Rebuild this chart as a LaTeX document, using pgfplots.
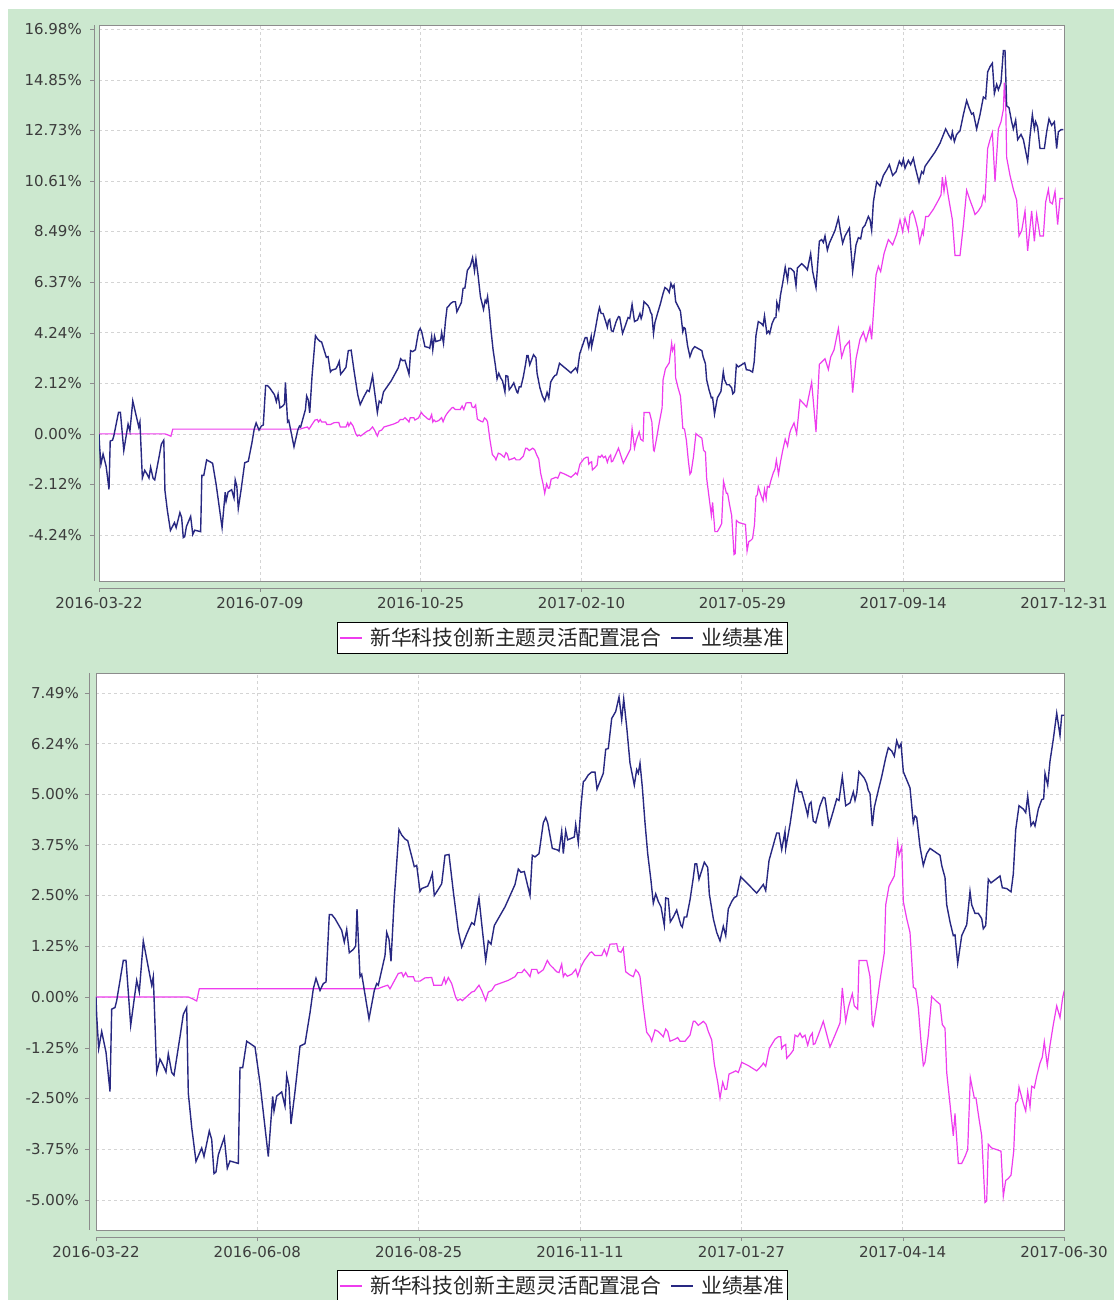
\documentclass[border=0pt]{standalone}
\usepackage{pgfplots}
\pgfplotsset{compat=1.18}
\usepackage{pgfplotstable}
\usepackage{fontspec}
\setmainfont{DejaVu Sans}
\newfontfamily\cjk{Noto Sans CJK SC}
\definecolor{bgg}{RGB}{204,232,207}
\definecolor{pk}{RGB}{238,60,238}
\definecolor{nv}{RGB}{40,40,130}
\definecolor{fr}{RGB}{140,140,140}
\definecolor{gr}{RGB}{212,212,212}
\definecolor{tl}{RGB}{60,60,60}

\pgfplotstableread{
u v
0 0
0.7 -0.47
2.7 -1.27
5.7 -0.85
10 -1.36
14 -2.33
15.7 -0.30
19 -0.26
20.7 -0.09
27.3 0.90
30 0.90
34.7 -0.70
40.7 0.41
43.3 0.12
47.3 1.38
55.7 0.29
57.3 0.50
60.7 -1.85
64 -1.53
67.3 -1.69
70 -1.85
72.3 -1.40
75.7 -1.86
78 -1.93
84 -0.98
87.3 -0.43
90.7 -0.26
92.3 -2.37
95.7 -3.21
100 -4.05
105.7 -3.72
108 -3.93
113.3 -3.30
115.7 -3.51
118 -4.35
120 -4.31
122.3 -3.89
128.3 -3.46
131.3 -4.22
134 -4.04
142.3 -4.10
144 -1.74
146.7 -1.74
150.7 -1.09
159 -1.23
164 -2.12
172.3 -3.93
176.7 -2.45
178 -2.81
180.7 -2.44
185.7 -2.34
189 -2.69
190.7 -1.93
193 -2.20
195 -3.13
199 -2.33
204 -1.21
209 -1.15
214 -0.39
217.3 0.20
220 0.46
224 0.16
227.3 0.33
230 0.37
233.3 2.03
235.7 2.03
239 1.93
245.7 1.64
248.3 1.35
250.7 1.66
253.3 1.09
257.3 1.17
259.7 1.26
261 2.16
264 0.50
265.7 0.56
273 -0.54
278.3 0.16
280.7 0.33
282.3 0.29
289 1.02
290.7 1.59
293 1.42
295 0.88
298.3 2.44
303 4.12
305.7 3.99
309 3.89
311.7 3.85
315 3.53
318.3 3.21
320.7 3.24
324 2.60
325.7 2.67
331.7 2.73
334 2.86
336.3 3.04
338.3 2.50
342.3 2.65
345.7 2.79
349 3.49
353 3.51
357.3 2.60
362.3 1.63
365.7 1.23
370.7 1.55
375.7 1.83
378.3 1.78
383 2.44
385.7 1.80
389.7 0.90
392.3 1.38
395 1.30
398.3 1.76
409 2.22
419 2.77
422.3 3.15
425 3.07
428.3 3.09
434 2.50
436.3 3.49
439 3.45
443 3.53
447.3 4.29
449.7 4.42
451.7 4.29
456.3 3.66
461.7 3.62
463 3.59
465.7 4.08
467.3 3.53
469.7 4.10
471.7 3.87
478.3 3.94
479.7 4.25
482.3 3.80
485 4.71
487.3 5.30
489 5.34
492.3 5.47
495.7 5.54
499 5.54
501 5.12
507.3 5.51
509.7 6.10
512.3 6.12
515.7 6.86
519.7 7.03
523 7.39
525.7 6.83
527.7 7.34
530.7 6.65
534 5.76
538.3 5.22
540.7 5.60
542.3 5.51
544 5.76
546.3 5.17
549 4.29
551.7 3.53
555 2.86
557.3 2.31
559.7 2.54
562.3 2.35
565 2.22
568.3 1.76
569.7 2.44
572.3 2.42
574.3 1.85
577.3 1.97
580.7 2.14
583 1.93
585 1.76
586.3 1.72
588.3 1.97
590.7 1.97
594 2.39
597.3 2.94
599 3.28
600.7 3.28
603 2.90
605.7 3.11
608.3 3.32
611.7 3.19
613.3 2.54
617.3 1.93
620.7 1.59
624 1.38
627.3 1.74
629.7 1.51
632.3 2.17
635.7 2.35
638.3 2.45
640.7 2.48
644.7 2.96
652.3 2.77
660.7 2.56
667.3 2.77
669.7 2.62
673 3.36
678.3 3.83
680.7 4.04
683 4.04
685.7 3.63
689 4.08
689.7 3.66
694 4.25
699 5.09
700.7 5.30
703 5.05
705.7 5.05
709 4.75
711.7 4.47
713.3 4.75
715 4.80
717.3 4.33
719.7 4.29
724 4.71
727.3 4.92
729 4.90
733 4.22
737.3 4.58
740.7 4.88
743 4.84
746.3 5.43
749.7 4.71
754 4.78
757.3 5.05
759 4.84
760.7 5.01
763 5.55
768.3 5.39
770.7 5.26
772.3 5.09
774 5.01
776.3 4.21
778.3 4.67
782.3 5.09
785.7 5.43
789.7 5.89
792.3 6.14
795.7 6.06
798.3 5.93
800.7 6.31
803 6.14
805 6.24
807.3 5.55
814 5.15
817.3 4.29
819 4.46
820.7 4.42
824 3.70
827.3 3.24
830.7 3.53
834 3.66
844 3.49
845.7 3.24
849 2.94
850.7 2.27
854 1.85
857.3 1.51
859 1.53
861.7 0.83
865.7 1.51
870.7 1.78
874 2.60
875.7 2.27
879 2.06
882.3 2.06
885.7 1.93
887.3 1.68
889.7 1.76
892.3 2.90
895 2.81
904 2.98
906.3 2.69
910.7 2.67
915 2.59
917.3 3.03
919.7 4.12
923 4.71
927.3 4.63
929.7 4.54
931.7 4.95
935 4.22
937.3 4.31
939 4.21
942.3 4.63
945.7 4.86
947.7 4.88
949 5.51
951.7 5.22
954 5.81
957.3 6.35
960.7 6.99
964 6.44
965.7 6.94
968.3 6.94
973 6.81
975.8 6.21
977.7 6.96
983.7 7.14
989.8 6.96
991.7 6.88
996.3 7.56
999.1 6.81
1003.8 6.14
1008.5 8.08
1011.7 8.15
1014.1 8.03
1016.4 8.30
1019.7 7.71
1022.5 8.00
1030.4 8.53
1035.1 9.05
1038.3 8.45
1041.1 8.00
1044.4 8.30
1050.5 8.63
1052.3 7.88
1055.1 6.81
1059.8 7.93
1063.1 8.23
1066.3 8.18
1069.1 8.63
1072.4 8.75
1077.1 9.12
1079.4 8.98
1081.7 8.53
1084.1 9.72
1088.7 10.57
1093.4 10.40
1098.1 10.84
1102.8 11.07
1106.5 11.29
1111.1 10.84
1115.8 10.99
1120.5 11.44
1123.7 11.26
1126.1 11.52
1128.4 11.14
1133.1 11.47
1136.3 11.29
1140.1 11.56
1142.4 11.22
1148 10.55
1151.7 11.00
1154.1 10.92
1156.4 11.22
1163.4 11.52
1170.4 11.82
1177.4 12.19
1185.3 12.79
1189.1 12.56
1192.8 12.37
1194.7 12.66
1197.5 12.26
1200.7 12.56
1205.4 12.71
1210.1 13.39
1214.7 13.98
1218 13.68
1221.7 13.41
1224.1 13.46
1228.7 12.79
1233.4 13.39
1238.1 14.13
1241.3 14.06
1244.1 15.18
1247.4 15.40
1250.7 15.55
1253.5 14.28
1256.7 14.66
1259.1 14.43
1262.8 14.73
1266.1 16.08
1268.4 16.08
1270.7 13.76
1274 13.68
1277.7 13.09
1280.1 12.79
1283.3 13.16
1286.1 12.34
1290.8 12.56
1294.1 12.34
1300.1 11.44
1303.4 12.49
1306.7 13.39
1309.5 12.79
1311.3 13.09
1314.1 12.86
1317.4 11.97
1323.5 11.97
1326.7 12.67
1330 13.21
1333.7 12.94
1337.5 13.09
1340.7 11.97
1343.1 12.67
1346.8 12.76
1350.1 12.76
}\bluetab

\pgfplotstableread{
u v
0 0
92.3 0
97 -0.05
100.7 -0.10
103.3 0.20
239 0.20
281.7 0.20
285.7 0.24
291.7 0.29
294 0.20
302.3 0.58
305.7 0.60
307.3 0.50
309.7 0.60
311.7 0.50
317.3 0.50
319 0.39
324 0.39
329 0.47
335.7 0.48
337.7 0.29
345.7 0.29
348.3 0.47
349.7 0.33
352.3 0.48
355.7 0.33
359.7 -0.01
361.7 -0.09
364.3 -0.05
366.3 -0.09
371.7 0.03
375.7 0.12
378.3 0.14
383 0.29
385.7 0.16
389.7 -0.09
392.3 0.12
395.7 0.16
399 0.29
405.7 0.35
412.3 0.41
419 0.50
421.7 0.60
425.7 0.60
428.3 0.68
431.7 0.58
434 0.50
435.7 0.68
440.7 0.68
442.3 0.58
447.3 0.67
451.3 0.90
454 0.79
457.3 0.71
460.7 0.62
463 0.60
465.7 0.81
467.3 0.50
469 0.58
471.3 0.51
475.7 0.56
479.7 0.68
481.7 0.51
485 0.75
488.3 0.90
494 1.09
495.7 1.11
499 1.02
505.7 1.02
508.3 1.17
510.7 1.02
514 1.30
520.7 1.31
522.3 1.13
525 1.10
527.3 1.21
529.7 0.62
534 0.54
537.3 0.50
539.7 0.67
542.3 0.60
544 0.50
547.3 -0.24
550.7 -0.87
554 -0.98
555.7 -1.09
559 -0.81
562.3 -0.85
567.3 -0.98
569.7 -0.79
571.7 -0.85
574 -1.09
579 -1.04
581.7 -1.00
584 -1.09
589 -1.09
594 -0.94
597.3 -0.60
599 -0.60
602.3 -0.70
607.3 -0.60
610 -0.67
612.3 -0.85
615.7 -1.06
618.3 -1.65
621.7 -2.10
624 -2.49
626.7 -2.10
629 -2.28
630.7 -2.27
633 -1.90
637.3 -1.85
639.7 -1.82
642.3 -1.86
645.7 -1.61
652.3 -1.69
660.7 -1.82
665.7 -1.69
667.3 -1.63
669.7 -1.71
673.3 -1.27
679 -1.04
682.3 -0.98
684.7 -0.98
685.7 -1.27
687.3 -1.21
689.7 -1.17
690.7 -1.51
694 -1.42
697.3 -1.31
699 -0.94
701.7 -0.98
704 -0.89
706.3 -1.00
709 -0.94
711.7 -1.19
714 -0.98
716.3 -0.89
717.3 -1.17
719 -1.15
722.3 -0.94
727.3 -0.60
734 -1.23
739 -0.94
744 -0.64
746.3 0.22
749.7 -0.60
752.3 -0.26
756.3 0.08
758.3 -0.22
761.7 -0.30
763 0.90
770.7 0.90
774 0.50
776.3 -0.68
777.3 -0.72
780.7 -0.18
784 0.41
788.3 1.09
789.7 2.27
793 2.73
798.3 2.98
801.7 3.80
803 3.49
805.7 3.70
807.3 2.35
810.7 1.93
814 1.59
815.7 0.92
817.3 0.24
819.7 0.20
822.3 -0.26
825 -1.10
827.3 -1.69
829 -1.61
832.3 -0.94
835.7 0.01
839.7 -0.09
844 -0.18
846.3 -0.68
849 -0.77
850.7 -1.86
855.7 -3.04
857.3 -3.42
859 -2.87
862.3 -4.10
865.7 -4.10
869 -3.93
871.7 -3.76
874.3 -1.99
878.3 -2.49
880 -2.49
883 -3.00
885.7 -3.42
889 -5.06
890.7 -5.02
892.3 -3.63
895.7 -3.72
900.7 -3.76
905 -3.80
907.3 -4.91
909.7 -4.52
912.3 -4.47
915 -4.39
917.7 -3.80
919.7 -2.62
921.7 -2.55
923 -2.22
927.3 -2.62
929.7 -2.81
931.7 -2.33
934 -2.71
935.7 -2.20
938.3 -2.24
940.7 -1.95
944 -1.63
946.3 -1.48
948.3 -1.10
951.3 -1.69
954 -1.19
957.3 -0.68
960.7 -0.22
964 -0.51
966.7 -0.01
968.3 0.16
973 0.46
976.7 0.01
981.4 1.43
986.1 1.28
990.7 1.13
997.7 2.17
1003.8 0.08
1008.5 2.92
1016.4 3.15
1021.1 2.70
1024.3 3.22
1029 3.52
1035.1 4.42
1039.7 3.22
1044.4 3.67
1050.5 3.89
1055.1 1.73
1059.8 3.15
1065.4 3.97
1070.1 4.27
1073.8 3.89
1079.4 4.49
1081.7 3.97
1087.8 6.66
1091.1 7.03
1094.3 6.81
1099 7.56
1105.1 8.15
1111.1 7.93
1116.7 8.38
1121.4 8.98
1125.1 8.48
1128.4 9.05
1133.1 8.53
1135.4 9.20
1139.1 9.35
1142.4 9.05
1146.1 8.60
1148.9 8.03
1152.7 8.53
1154.1 8.38
1157.3 9.12
1161.1 9.12
1168.1 9.42
1175.1 9.80
1178.8 10.02
1180.7 10.77
1183 10.17
1185.3 10.70
1189.1 9.95
1194.7 8.98
1198.4 7.48
1205.4 7.48
1210.1 8.75
1214.7 10.22
1219.4 9.80
1224.1 9.42
1226.4 9.20
1231.1 9.35
1235.7 9.57
1238.1 9.98
1240.4 9.80
1244.1 11.97
1247.4 12.34
1250.7 12.64
1254.4 10.58
1259.1 12.79
1262.8 13.09
1266.1 13.61
1267.5 14.73
1269.4 13.83
1270.7 11.59
1275.4 10.84
1280.1 10.25
1284.7 9.80
1288 8.30
1291.8 8.53
1296.4 9.35
1300.1 7.68
1305.7 9.35
1309.5 8.08
1312.7 9.20
1317.4 8.30
1322.1 8.30
1325.3 9.72
1329.1 10.25
1331.4 9.72
1334.7 9.65
1338.4 10.17
1342.1 8.78
1345.4 9.87
1350.1 9.87
}\pinktab

\pgfplotsset{
  common/.style={
    scale only axis,
    anchor=south west,
    axis background/.style={fill=white},
    axis line style={fr, line width=0.8pt},
    tick align=outside,
    major tick length=4pt,
    tick pos=left,
    grid=major,
    major grid style={gr, dash pattern=on 3pt off 3pt, line width=0.6pt},
    ticklabel style={font=\fontsize{15}{18}\selectfont, text=tl, inner sep=0pt},
    yticklabel style={xshift=-13pt},
    xticklabel style={yshift=-12pt},
    legend style={draw=black, line width=0.8pt, fill=white,
      font=\cjk\fontsize{20.8}{24}\selectfont, text=black!85,
      legend columns=2, cells={anchor=west}, nodes={inner sep=0pt},
      inner xsep=3pt, inner ysep=6pt,
      /tikz/every odd column/.append style={column sep=8pt},
      /tikz/every even column/.append style={column sep=10pt}},
  },
  pklegend/.style={legend image code/.code={\fill[pk] (0pt,-0.65pt) rectangle (21pt,0.65pt);}},
  nvlegend/.style={legend image code/.code={\fill[nv] (0pt,-0.65pt) rectangle (21pt,0.65pt);}},
}

\begin{document}
\begin{tikzpicture}[x=1pt,y=1pt]
\useasboundingbox (0,0) rectangle (1114,1300);
\fill[white] (0,0) rectangle (1114,1300);
\fill[bgg] (8,0) rectangle (1114,1291);

\begin{axis}[common,
  at={(99pt,719pt)}, width=965pt, height=556pt,
  xmin=0, xmax=1351, ymin=-6.17, ymax=17.15,
  xtick={0,225.17,450.33,675.5,900.67,1125.83,1351},
  xticklabels={2016-03-22,2016-07-09,2016-10-25,2017-02-10,2017-05-29,2017-09-14,2017-12-31},
  ytick={-4.24,-2.12,0,2.12,4.24,6.37,8.49,10.61,12.73,14.85,16.98},
  yticklabels={-4.24\%,-2.12\%,0.00\%,2.12\%,4.24\%,6.37\%,8.49\%,10.61\%,12.73\%,14.85\%,16.98\%},
  xtick style={fr, yshift=-7pt}, ytick style={fr, xshift=-5pt},
  legend style={at={(0.4803,-0.0737)}, anchor=north},
]
\addlegendimage{pklegend}
\addlegendentry{新华科技创新主题灵活配置混合}
\addlegendimage{nvlegend}
\addlegendentry{业绩基准}
\addplot[pk, line width=1.2pt, forget plot] table[x=u,y=v]{\pinktab};
\addplot[nv, line width=1.4pt, forget plot] table[x=u,y=v]{\bluetab};
\end{axis}

\begin{axis}[common,
  at={(96pt,70pt)}, width=968pt, height=557pt,
  xmin=0, xmax=968, ymin=-5.74, ymax=7.98,
  xtick={0,161.33,322.67,484,645.33,806.67,968},
  xticklabels={2016-03-22,2016-06-08,2016-08-25,2016-11-11,2017-01-27,2017-04-14,2017-06-30},
  ytick={-5,-3.75,-2.5,-1.25,0,1.25,2.5,3.75,5,6.24,7.49},
  yticklabels={-5.00\%,-3.75\%,-2.50\%,-1.25\%,0.00\%,1.25\%,2.50\%,3.75\%,5.00\%,6.24\%,7.49\%},
  xtick style={fr, yshift=-7pt}, ytick style={fr, xshift=-7pt},
  legend style={at={(0.4819,-0.0718)}, anchor=north},
]
\addlegendimage{pklegend}
\addlegendentry{新华科技创新主题灵活配置混合}
\addlegendimage{nvlegend}
\addlegendentry{业绩基准}
\addplot[pk, line width=1.2pt, forget plot, restrict x to domain=0:969] table[x=u,y=v]{\pinktab};
\addplot[nv, line width=1.4pt, forget plot, restrict x to domain=0:969] table[x=u,y=v]{\bluetab};
\end{axis}

\draw[fr, line width=0.8pt] (94,719) -- (94,1275);
\draw[fr, line width=0.8pt] (99,712) -- (1064,712);
\draw[fr, line width=0.8pt] (89,70) -- (89,627);
\draw[fr, line width=0.8pt] (96,63) -- (1064,63);
\end{tikzpicture}
\end{document}
